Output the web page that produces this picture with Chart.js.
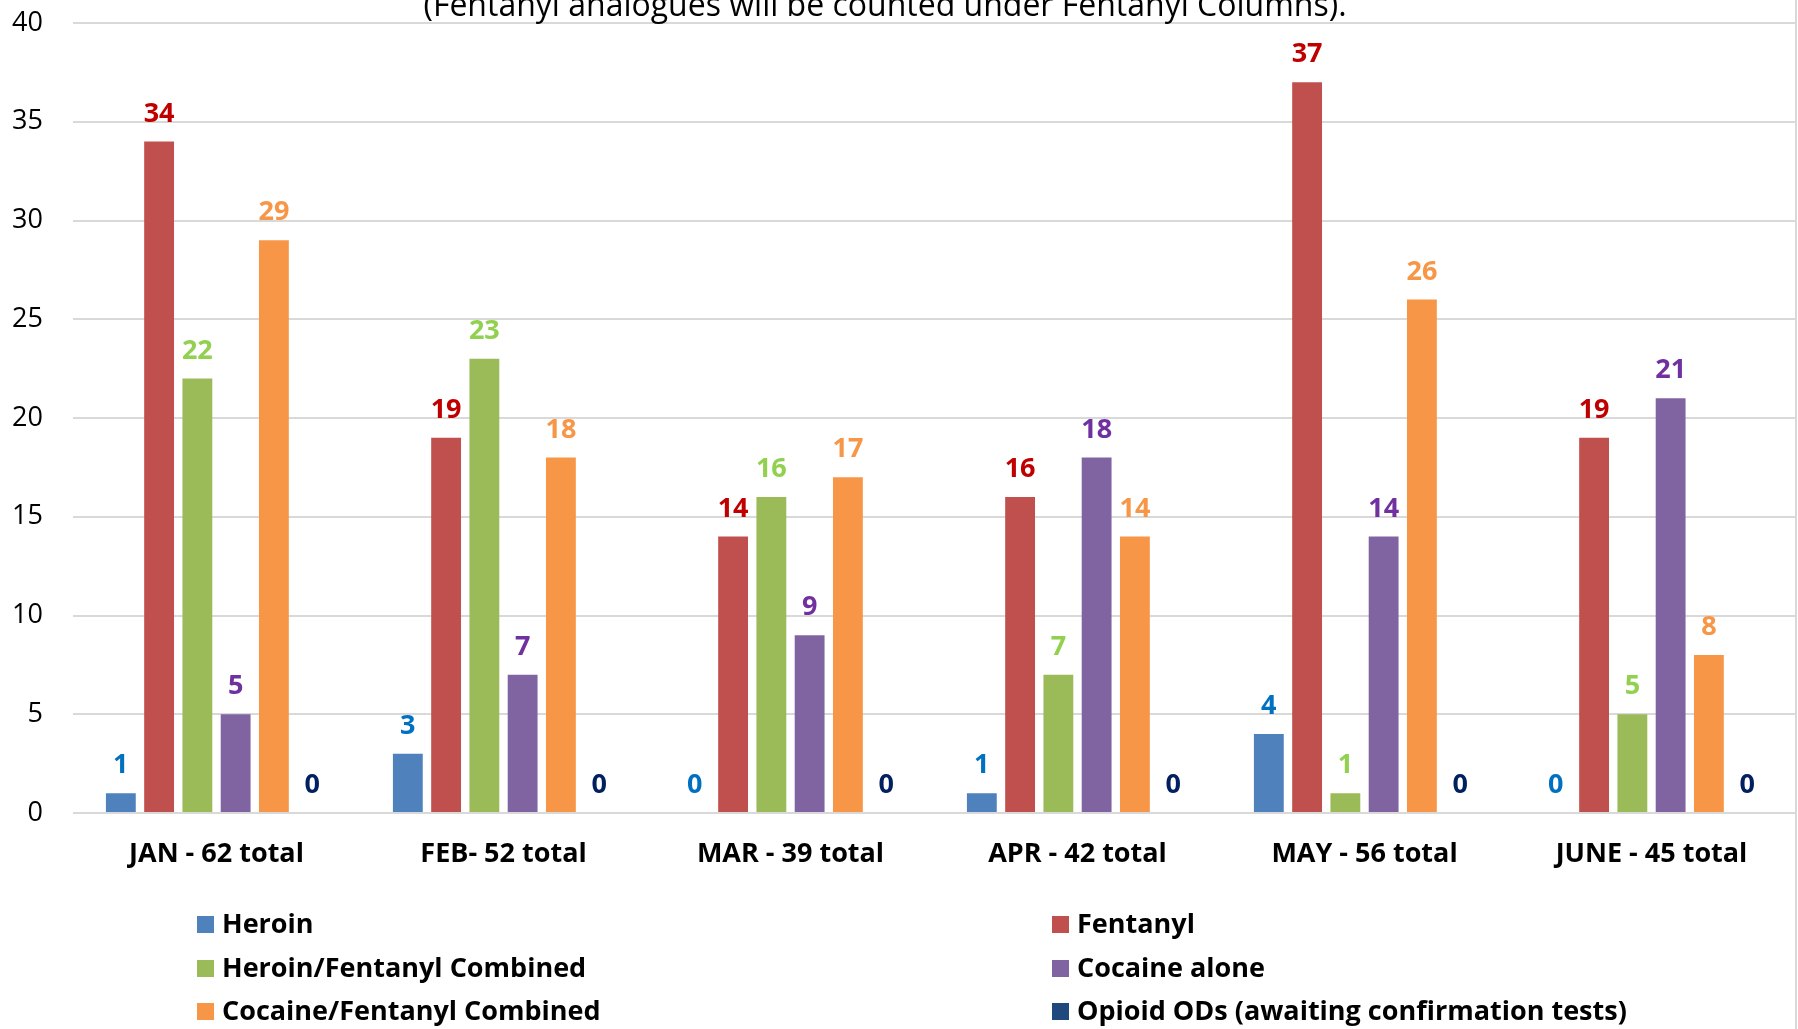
<!DOCTYPE html>
<html>
<head>
<meta charset="utf-8">
<script src="https://cdn.jsdelivr.net/npm/chart.js@4"></script>
<style>
  html, body { margin: 0; padding: 0; background: #fff; }
  #wrap { width: 1798px; height: 1029px; position: relative; }
</style>
</head>
<body>
<div id="wrap"><canvas id="odChart"></canvas></div>
<script>
// categories and series
const months = ['JAN - 62 total', 'FEB- 52 total', 'MAR - 39 total', 'APR - 42 total', 'MAY - 56 total', 'JUNE - 45 total'];
const heroin = [1, 3, 0, 1, 4, 0];
const fentanyl = [34, 19, 14, 16, 37, 19];
const heroinFentanyl = [22, 23, 16, 7, 1, 5];
const cocaineAlone = [5, 7, 9, 18, 14, 21];
const cocaineFentanyl = [29, 18, 17, 14, 26, 8];
const opioidPending = [0, 0, 0, 0, 0, 0];
const seriesNames = ['Heroin', 'Fentanyl', 'Heroin/Fentanyl Combined', 'Cocaine alone', 'Cocaine/Fentanyl Combined', 'Opioid ODs (awaiting confirmation tests)'];
const yTicks = [0, 5, 10, 15, 20, 25, 30, 35, 40];
const titleText = '(Fentanyl analogues will be counted under Fentanyl Columns).';

const barColors = ['#4F81BD', '#C0504D', '#9BBB59', '#8064A2', '#F79646', '#1F497D'];
const labelColors = ['#0070C0', '#C00000', '#92D050', '#7030A0', '#F79646', '#002060'];
const FONT = '"Open Sans", sans-serif';

const seriesData = [heroin, fentanyl, heroinFentanyl, cocaineAlone, cocaineFentanyl, opioidPending];

// value labels above bars, the clipped title, custom two-column legend, right frame line
const extras = {
  id: 'extras',
  afterDatasetsDraw(chart) {
    const ctx = chart.ctx;
    ctx.save();
    ctx.font = 'bold 27px ' + FONT;
    ctx.textAlign = 'center';
    ctx.textBaseline = 'alphabetic';
    chart.data.datasets.forEach((ds, i) => {
      const meta = chart.getDatasetMeta(i);
      ctx.fillStyle = labelColors[i];
      meta.data.forEach((bar, j) => {
        ctx.fillText(String(ds.data[j]), bar.x, bar.y - 20);
      });
    });
    ctx.restore();
  },
  afterDraw(chart) {
    const ctx = chart.ctx;
    ctx.save();
    // title, cut off at the top edge like the source image
    ctx.font = '32px ' + FONT;
    ctx.fillStyle = '#000';
    ctx.textAlign = 'center';
    ctx.textBaseline = 'alphabetic';
    ctx.fillText(titleText, 885, 16);

    // frame line on the right
    ctx.strokeStyle = '#D9D9D9';
    ctx.lineWidth = 2;
    ctx.beginPath();
    ctx.moveTo(1796, 0);
    ctx.lineTo(1796, 1029);
    ctx.stroke();

    // legend: 2 columns x 3 rows
    ctx.font = 'bold 27px ' + FONT;
    ctx.textAlign = 'left';
    ctx.textBaseline = 'middle';
    const colX = [197, 1052];
    const rowY = [924, 968, 1011];
    chart.data.datasets.forEach((ds, i) => {
      const x = colX[i % 2];
      const y = rowY[Math.floor(i / 2)];
      ctx.fillStyle = barColors[i];
      ctx.fillRect(x, y - 8, 17, 17);
      ctx.fillStyle = '#000';
      ctx.fillText(ds.label, x + 25, y + 1);
    });
    ctx.restore();
  }
};

new Chart(document.getElementById('odChart'), {
  type: 'bar',
  data: {
    labels: months,
    datasets: seriesData.map((d, i) => ({
      label: seriesNames[i],
      data: d,
      backgroundColor: barColors[i],
      borderWidth: 0,
      categoryPercentage: 0.8,
      barPercentage: 0.78
    }))
  },
  options: {
    responsive: true,
    maintainAspectRatio: false,
    animation: false,
    layout: { padding: { left: 0, right: 3, top: 23, bottom: 0 } },
    plugins: {
      legend: { display: false },
      tooltip: { enabled: false }
    },
    scales: {
      x: {
        grid: { display: false, drawTicks: false },
        border: { display: false },
        ticks: {
          color: '#000',
          font: { family: FONT, size: 27, weight: 'bold' },
          padding: 25,
          maxRotation: 0,
          autoSkip: false
        },
        afterFit(scale) { scale.height = 216; }
      },
      y: {
        min: 0,
        max: 40,
        afterBuildTicks(scale) { scale.ticks = yTicks.map(v => ({ value: v })); },
        grid: { color: '#D9D9D9', lineWidth: 2, drawTicks: false },
        border: { display: false },
        ticks: {
          color: '#000',
          font: { family: FONT, size: 27 },
          padding: 30
        },
        afterFit(scale) {
          scale.width = 73;
          scale.paddingTop = 0;
          scale.paddingBottom = 0;
        }
      }
    }
  },
  plugins: [extras]
});
</script>
</body>
</html>
